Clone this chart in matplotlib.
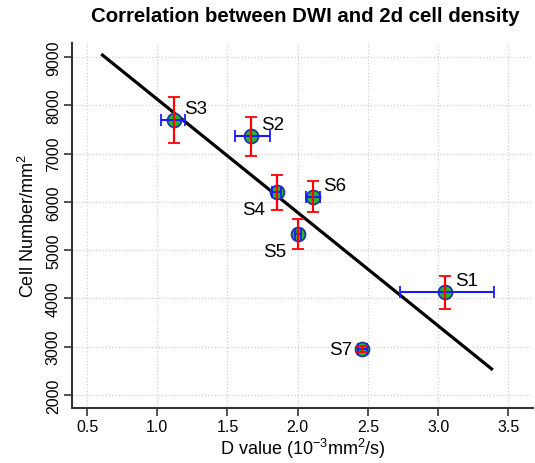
import matplotlib
matplotlib.use("Agg")
import matplotlib.pyplot as plt

plt.rcParams['font.family'] = ['Liberation Sans', 'DejaVu Sans']

labels = ["S1", "S2", "S3", "S4", "S5", "S6", "S7"]
d_value = [3.05, 1.67, 1.12, 1.85, 2.00, 2.11, 2.46]
cell_num = [4130, 7360, 7690, 6200, 5330, 6110, 2945]
d_err_lo = [0.32, 0.12, 0.09, 0.03, 0.02, 0.05, 0.03]
d_err_hi = [0.35, 0.13, 0.08, 0.03, 0.02, 0.05, 0.03]
cell_err_lo = [340, 415, 470, 365, 310, 320, 60]
cell_err_hi = [335, 400, 485, 360, 310, 320, 60]
fit_x = [0.61, 3.38]
fit_y = [9040, 2540]
label_offsets = {"S1": (7, 2), "S2": (7, 2), "S3": (7, 2), "S4": (-8, -6),
                 "S5": (-8, -6), "S6": (7, 2), "S7": (-7, 0)}
xticks = [0.5, 1.0, 1.5, 2.0, 2.5, 3.0, 3.5]
yticks = [2000, 3000, 4000, 5000, 6000, 7000, 8000, 9000]

fig = plt.figure(figsize=(5.35, 4.64), dpi=100)
ax = fig.add_axes([72/535, 1-409/464, (533-72)/535, (409-44)/464])

ax.set_xlim(0.393, 3.675)
ax.set_ylim(1730, 9290)
ax.set_xticks(xticks)
ax.set_xticklabels([f"{t:.1f}" for t in xticks])
ax.set_yticks(yticks)
ax.set_yticklabels([str(t) for t in yticks], rotation=90, va='center')
ax.grid(True, color='#d0d0d0', linestyle=':', linewidth=0.9)
ax.set_axisbelow(True)

for s in ['top', 'right']:
    ax.spines[s].set_visible(False)
for s in ['left', 'bottom']:
    ax.spines[s].set_linewidth(1.5)
    ax.spines[s].set_color('#333333')
ax.tick_params(direction='out', length=6, width=1.2, color='#333333', labelsize=11.5, pad=2)

ax.plot(fit_x, fit_y, color='black', linewidth=2.3, zorder=2)

ax.scatter(d_value, cell_num, s=100, color='#22bb22', edgecolors='#2233aa', linewidths=1.3, zorder=3)
ax.errorbar(d_value, cell_num, xerr=[d_err_lo, d_err_hi], fmt='none', ecolor='#1a1aff',
            elinewidth=1.5, capsize=4, capthick=1.3, zorder=4)
ax.errorbar(d_value, cell_num, yerr=[cell_err_lo, cell_err_hi], fmt='none', ecolor='red',
            elinewidth=1.6, capsize=4, capthick=1.3, zorder=5)

for lab, x, y in zip(labels, d_value, cell_num):
    dx, dy = label_offsets[lab]
    ha = 'left' if dx > 0 else 'right'
    ax.annotate(lab, (x, y), xytext=(dx, dy), textcoords='offset points',
                ha=ha, va='bottom' if dy > 0 else ('top' if dy < 0 else 'center'),
                fontsize=13.5)

ax.set_xlabel(r"D value ($\mathregular{10^{-3}mm^2/s}$)", fontsize=13, labelpad=1)
ax.set_ylabel(r"Cell Number/$\mathregular{mm^2}$", fontsize=13, labelpad=6)
fig.text(305/535, 1-17/464, "Correlation between DWI and 2d cell density",
         ha='center', va='center', fontsize=14.7, fontweight='bold')

fig.savefig("out.png", dpi=100)
